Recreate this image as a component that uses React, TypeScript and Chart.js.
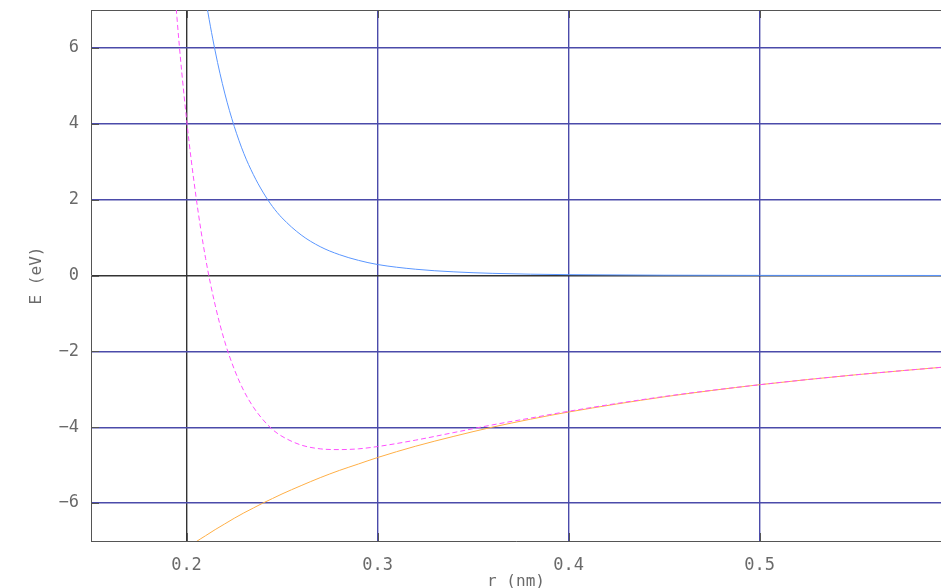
import { useEffect, useRef } from "react";
import { Chart, registerables } from "chart.js";

Chart.register(...registerables);

// r (nm)
const rValues = [0.19, 0.195, 0.2, 0.205, 0.21, 0.215, 0.22, 0.225, 0.23, 0.235, 0.24, 0.245, 0.25, 0.26, 0.27, 0.28, 0.29, 0.3, 0.32, 0.34, 0.36, 0.38, 0.4, 0.45, 0.5, 0.55, 0.6];
// repulsive energy (eV) - blue
const repulsive = [18.0, 14.2, 11.33, 9.09, 7.31, 5.92, 4.81, 3.93, 3.22, 2.66, 2.2, 1.82, 1.52, 1.07, 0.76, 0.55, 0.4, 0.29, 0.165, 0.096, 0.057, 0.035, 0.022, 0.008, 0.003, 0.001, 0.0006];
// attractive energy (eV) - orange
const attractive = [-7.58, -7.38, -7.2, -7.02, -6.86, -6.7, -6.55, -6.4, -6.26, -6.13, -6.0, -5.88, -5.76, -5.54, -5.33, -5.14, -4.97, -4.8, -4.5, -4.24, -4.0, -3.79, -3.6, -3.2, -2.88, -2.62, -2.4];
// total energy (eV) - magenta dashed
const total = [10.4, 6.8, 4.13, 2.07, 0.45, -0.78, -1.74, -2.47, -3.04, -3.47, -3.8, -4.06, -4.24, -4.47, -4.57, -4.59, -4.57, -4.51, -4.34, -4.14, -3.94, -3.76, -3.58, -3.19, -2.88, -2.62, -2.4];

const xTickLabels = ["0.2", "0.3", "0.4", "0.5"];
const yTickLabels = ["\u22126", "\u22124", "\u22122", "0", "2", "4", "6"];

const X_MIN = 0.15;
const X_MAX = 0.595;
const Y_MIN = -7;
const Y_MAX = 7;

const GRID_BLUE = "rgb(75,75,170)";
const AXIS_DARK = "#333";
const FRAME = "#555";
const TEXT = "#6a6a6a";
const FONT_FAMILY = '"DejaVu Sans Mono", monospace';

const near = (v: number, step: number) => Math.abs(v / step - Math.round(v / step)) < 1e-6;
const fmtY = (v: number) => (v < 0 ? "\u2212" + Math.abs(v) : String(v));

const framePlugin = {
  id: "framePlugin",
  beforeDatasetsDraw(chart: any) {
    const { ctx, chartArea, scales } = chart;
    const { left, right, top, bottom } = chartArea;
    ctx.save();
    ctx.strokeStyle = FRAME;
    ctx.lineWidth = 1;
    ctx.beginPath();
    ctx.moveTo(left, top + 0.5);
    ctx.lineTo(right, top + 0.5);
    ctx.stroke();
    const xs = scales.x;
    xs.ticks.forEach((t: any) => {
      if (!near(t.value, 0.02)) return;
      const px = Math.round(xs.getPixelForValue(t.value)) + 0.5;
      const len = near(t.value, 0.1) ? 8 : 5;
      ctx.beginPath();
      ctx.moveTo(px, bottom);
      ctx.lineTo(px, bottom - len);
      ctx.moveTo(px, top);
      ctx.lineTo(px, top + len);
      ctx.stroke();
    });
    const ys = scales.y;
    ys.ticks.forEach((t: any) => {
      if (!near(t.value, 0.5)) return;
      const py = Math.round(ys.getPixelForValue(t.value)) + 0.5;
      const len = near(t.value, 2) ? 8 : 5;
      ctx.beginPath();
      ctx.moveTo(left, py);
      ctx.lineTo(left + len, py);
      ctx.stroke();
    });
    ctx.restore();
  },
  afterDraw(chart: any) {
    const { ctx, chartArea } = chart;
    ctx.save();
    ctx.fillStyle = TEXT;
    ctx.font = `16px ${FONT_FAMILY}`;
    ctx.textAlign = "center";
    ctx.textBaseline = "alphabetic";
    ctx.fillText("r (nm)", (chartArea.left + chartArea.right) / 2, chart.height - 2);
    ctx.translate(41, (chartArea.top + chartArea.bottom) / 2);
    ctx.rotate(-Math.PI / 2);
    ctx.fillText("E (eV)", 0, 0);
    ctx.restore();
  },
};

export default function App() {
  const canvasRef = useRef<HTMLCanvasElement | null>(null);

  useEffect(() => {
    if (!canvasRef.current) return;
    const pts = (ys: number[]) => rValues.map((r, i) => ({ x: r, y: ys[i] }));
    const chart = new Chart(canvasRef.current, {
      type: "line",
      data: {
        datasets: [
          {
            label: "total",
            data: pts(total),
            borderColor: "rgb(255,80,255)",
            borderWidth: 1,
            borderDash: [5, 3],
            pointRadius: 0,
            cubicInterpolationMode: "monotone",
            fill: false,
          },
          {
            label: "repulsive",
            data: pts(repulsive),
            borderColor: "rgb(90,150,255)",
            borderWidth: 1,
            pointRadius: 0,
            cubicInterpolationMode: "monotone",
            fill: false,
          },
          {
            label: "attractive",
            data: pts(attractive),
            borderColor: "rgb(255,175,70)",
            borderWidth: 1,
            pointRadius: 0,
            cubicInterpolationMode: "monotone",
            fill: false,
          },
        ],
      },
      options: {
        animation: false,
        responsive: false,
        layout: { padding: { top: 10, left: 0, right: 0, bottom: 0 } },
        plugins: {
          legend: { display: false },
          tooltip: { enabled: false },
        },
        scales: {
          x: {
            type: "linear",
            min: X_MIN,
            max: X_MAX,
            afterFit: (s: any) => {
              s.height = 47;
              s.paddingLeft = 0;
              s.paddingRight = 0;
              s.paddingTop = 0;
              s.paddingBottom = 0;
            },
            ticks: {
              stepSize: 0.02,
              autoSkip: false,
              maxRotation: 0,
              padding: 14,
              color: TEXT,
              font: { family: FONT_FAMILY, size: 17 },
              callback: (v: any) => {
                const n = Number(v);
                if (!near(n, 0.1)) return null;
                const s = n.toFixed(1);
                return xTickLabels.includes(s) ? s : null;
              },
            },
            grid: {
              drawTicks: false,
              lineWidth: 1.4,
              color: (c: any) => {
                const v = c.tick ? c.tick.value : NaN;
                if (near(v, 0.1) && v > X_MIN + 1e-9 && v < X_MAX - 1e-9) {
                  return Math.abs(v - 0.2) < 1e-6 ? AXIS_DARK : GRID_BLUE;
                }
                return "rgba(0,0,0,0)";
              },
            },
            border: { display: true, color: FRAME, width: 1 },
          },
          y: {
            type: "linear",
            min: Y_MIN,
            max: Y_MAX,
            afterFit: (s: any) => {
              s.width = 91;
              s.paddingTop = 0;
              s.paddingBottom = 0;
              s.paddingLeft = 0;
              s.paddingRight = 0;
            },
            ticks: {
              stepSize: 0.5,
              autoSkip: false,
              padding: 12,
              color: TEXT,
              font: { family: FONT_FAMILY, size: 17 },
              callback: (v: any) => {
                const n = Number(v);
                if (!near(n, 2)) return null;
                const s = fmtY(n);
                return yTickLabels.includes(s) ? s : null;
              },
            },
            grid: {
              drawTicks: false,
              lineWidth: 1.4,
              color: (c: any) => {
                const v = c.tick ? c.tick.value : NaN;
                if (near(v, 2) && v > Y_MIN && v < Y_MAX) {
                  return Math.abs(v) < 1e-6 ? AXIS_DARK : GRID_BLUE;
                }
                return "rgba(0,0,0,0)";
              },
            },
            border: { display: true, color: FRAME, width: 1 },
          },
        },
      },
      plugins: [framePlugin],
    });
    return () => chart.destroy();
  }, []);

  return (
    <div style={{ position: "fixed", left: 0, top: 0, width: 941, height: 588, background: "#fff" }}>
      <canvas ref={canvasRef} width={941} height={588} />
    </div>
  );
}
